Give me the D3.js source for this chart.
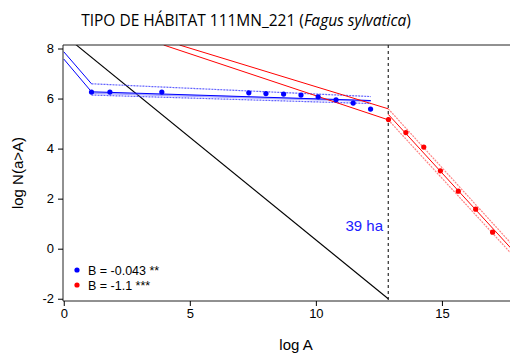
<!DOCTYPE html>
<html><head><meta charset="utf-8">
<script src="https://cdn.jsdelivr.net/npm/d3@7"></script>
<style>body{margin:0;background:#fff}svg{display:block}</style>
</head><body><svg id="c" width="510" height="356"></svg>
<script>
const xTicks = [0, 5, 10, 15];
const yTicks = [-2, 0, 2, 4, 6, 8];
const blueX = [1.10, 1.83, 3.89, 7.34, 8.02, 8.72, 9.41, 10.09, 10.80, 11.48, 12.17];
const blueY = [6.26, 6.26, 6.26, 6.23, 6.20, 6.18, 6.14, 6.07, 5.95, 5.82, 5.58];
const redX = [12.88, 13.57, 14.28, 14.94, 15.65, 16.34, 17.01];
const redY = [5.16, 4.64, 4.06, 3.11, 2.30, 1.58, 0.66];
const breakX = 12.87;
const blackLine = [[0, 8.55], [12.87, -2]];
const blueFit = [[0, 7.58], [1.10, 6.27], [12.18, 5.92]];
const blueUpper = [[0, 7.87], [1.10, 6.59]];
const blueUpperDot = [[1.10, 6.59], [12.18, 6.08]];
const blueLowerDot = [[1.10, 6.14], [12.18, 5.80]];
const blueLight = [[1.10, 6.22], [12.18, 5.90]];
const redUpper = [[4.59, 8.14], [12.87, 5.59]];
const redLower = [[3.96, 8.14], [12.87, 5.15]];
const redFit = [[12.87, 5.37], [17.8, -0.05]];
const redUpperDot = [[12.87, 5.59], [17.8, 0.15]];
const redLowerDot = [[12.87, 5.15], [17.8, -0.25]];
const legendLabels = ["B = -0.043 **", "B = -1.1 ***"];
const legendColors = ["#0000ff", "#ff0000"];

const svg = d3.select("#c");
const x = d3.scaleLinear().domain([-0.03, 17.7]).range([63, 510]);
const y = d3.scaleLinear().domain([-2.09, 8.14]).range([301, 45]);
const font = "'Liberation Sans', Arial, sans-serif";

svg.append("defs").append("clipPath").attr("id", "clip")
  .append("rect").attr("x", 63).attr("y", 45).attr("width", 447).attr("height", 256);

const g = svg.append("g").attr("clip-path", "url(#clip)");
const line = d3.line().x(d => x(d[0])).y(d => y(d[1]));

function path(data, color, width, dash, op) {
  g.append("path").attr("d", line(data)).attr("fill", "none")
    .attr("stroke", color).attr("stroke-width", width)
    .attr("stroke-dasharray", dash || null).attr("stroke-opacity", op || 1);
}

path(blackLine, "#000", 1.1);
path(blueLight, "#6f6fff", 2, null, 0.6);
path(blueFit, "#0000ff", 1);
path(blueUpper, "#0000ff", 1);
path(blueUpperDot, "#3b3bff", 1.2, "2,1", 0.8);
path(blueLowerDot, "#3b3bff", 1.2, "2,1", 0.8);
path(redUpper, "#ff0000", 1);
path(redLower, "#ff0000", 1);
path(redFit, "#ff0000", 1);
path(redUpperDot, "#ff5050", 1.2, "2,1", 0.7);
path(redLowerDot, "#ff5050", 1.2, "2,1", 0.7);

g.append("line").attr("x1", x(breakX)).attr("x2", x(breakX)).attr("y1", 45).attr("y2", 301)
  .attr("stroke", "#000").attr("stroke-dasharray", "3,3");

g.selectAll(".bp").data(blueX).join("circle").attr("cx", d => x(d))
  .attr("cy", (d, i) => y(blueY[i])).attr("r", 2.6).attr("fill", "#0000ff");
g.selectAll(".rp").data(redX).join("circle").attr("cx", d => x(d))
  .attr("cy", (d, i) => y(redY[i])).attr("r", 2.6).attr("fill", "#ff0000");

// box
svg.append("path").attr("d", `M510,45H63V301H510`).attr("fill", "none").attr("stroke", "#222").attr("stroke-width", 1);

const xa = svg.append("g").attr("transform", "translate(0,301)")
  .call(d3.axisBottom(x).tickValues(xTicks).tickFormat(d => String(d)).tickSize(5).tickPadding(3));
const ya = svg.append("g").attr("transform", "translate(63,0)")
  .call(d3.axisLeft(y).tickValues(yTicks).tickFormat(d => String(d)).tickSize(5).tickPadding(4));
[xa, ya].forEach(a => {
  a.select(".domain").remove();
  a.selectAll("text").attr("font-family", font).attr("font-size", 13).attr("fill", "#000");
  a.selectAll("line").attr("stroke", "#000");
});

svg.append("text").attr("x", 246).attr("y", 26).attr("text-anchor", "middle")
  .attr("font-family", "'Open Sans', sans-serif").attr("font-size", 15.5).attr("fill", "#000")
  .html("TIPO DE HÁBITAT 111MN_221 (<tspan font-style='italic'>Fagus sylvatica</tspan>)");
svg.append("text").attr("x", 296).attr("y", 350).attr("text-anchor", "middle")
  .attr("font-family", font).attr("font-size", 15).text("log A");
svg.append("text").attr("transform", "translate(23,173) rotate(-90)").attr("text-anchor", "middle")
  .attr("font-family", font).attr("font-size", 15).text("log N(a>A)");
svg.append("text").attr("x", 383).attr("y", 231).attr("text-anchor", "end")
  .attr("font-family", font).attr("font-size", 15).attr("fill", "#2020ff").text("39 ha");

legendLabels.forEach((t, i) => {
  svg.append("circle").attr("cx", 77).attr("cy", 270 + i * 15).attr("r", 2.6).attr("fill", legendColors[i]);
  svg.append("text").attr("x", 88).attr("y", 275 + i * 15).attr("font-family", font)
    .attr("font-size", 12.5).text(t);
});
</script></body></html>
